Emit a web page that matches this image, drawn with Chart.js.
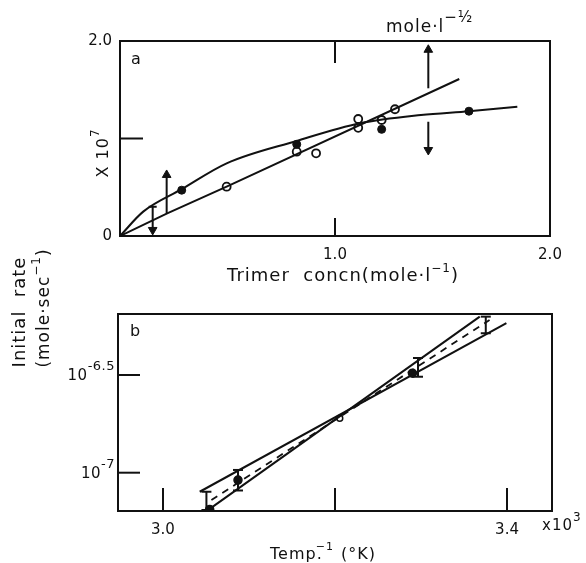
<!DOCTYPE html>
<html><head><meta charset="utf-8">
<script src="https://cdn.jsdelivr.net/npm/chart.js@4.4.1/dist/chart.umd.min.js"></script>
<style>
html,body{margin:0;padding:0;background:#fff;}
#wrap{position:relative;width:586px;height:563px;overflow:hidden;background:#fff;}
canvas{position:absolute;left:0;}
</style></head><body>
<div id="wrap">
<canvas id="ca" width="586" height="290" style="top:0px"></canvas>
<canvas id="cb" width="586" height="323" style="top:240px"></canvas>
</div>
<script>
// ---------- Panel a data ----------
const aFilledX = [0.287, 0.822, 1.217, 1.623];
const aFilledY = [0.47, 0.94, 1.094, 1.28];
const aOpenX = [0.496, 0.822, 0.912, 1.108, 1.108, 1.217, 1.279];
const aOpenY = [0.506, 0.865, 0.848, 1.20, 1.11, 1.19, 1.30];
const aCurveX = [0, 0.108, 0.287, 0.496, 0.822, 1.116, 1.40, 1.623, 1.848];
const aCurveY = [0, 0.25, 0.48, 0.745, 0.975, 1.156, 1.241, 1.28, 1.326];
const aLineX = [0, 0.217, 0.496, 1.578];
const aLineY = [0, 0.229, 0.506, 1.61];
const aArrowX = [0.152, 0.217, 1.434, 1.434];
const aArrowFrom = [0.30, 0.236, 1.515, 1.172];
const aArrowTo = [0.062, 0.626, 1.91, 0.882];
const aXTickValues = [1.0, 2.0];
const aXTickLabels = ['1.0', '2.0'];
const aYTickValues = [0, 2.0];
const aYTickLabels = ['0', '2.0'];
const aXMarks = [1.0];
const aYMarks = [1.0];

// ---------- Panel b data (log10 of initial rate) ----------
const bPointX = [3.0543, 3.0872, 3.2055, 3.290];
const bPointLog = [-7.188, -7.0376, -6.722, -6.491];
const bPointFilled = [true, true, false, true];
const bErrX = [3.0505, 3.0872, 3.2965, 3.3753];
const bErrLow = [-7.191, -7.091, -6.509, -6.2865];
const bErrHigh = [-7.0975, -6.986, -6.413, -6.2015];
const bShallowX = [3.0427, 3.3993];
const bShallowLog = [-7.0975, -6.2353];
const bSteepX = [3.0523, 3.3683];
const bSteepLog = [-7.1912, -6.2015];
const bDashX = [3.0563, 3.3797];
const bDashLog = [-7.14, -6.2184];
const bXTickValues = [3.0, 3.4];
const bXTickLabels = ['3.0', '3.4'];
const bXMarks = [3.0, 3.2, 3.4];
const bYMarks = [-6.5, -7.0];
const bYTickBase = ['10', '10'];
const bYTickExp = ['-6.5', '-7'];

const FONT = '"DejaVu Sans", sans-serif';
const INK = '#111';

function pts(xs, ys) { return xs.map((x, i) => ({x: x, y: ys[i]})); }

function rich(ctx, x, y, parts, align, spacing) {
  ctx.save();
  ctx.letterSpacing = (spacing || 0) + 'px';
  let w = 0;
  parts.forEach(p => { ctx.font = p.s + 'px ' + FONT; p.w = ctx.measureText(p.t).width + (p.gap || 0); w += p.w; });
  let cx = align === 'center' ? x - w / 2 : (align === 'right' ? x - w : x);
  ctx.textAlign = 'left'; ctx.textBaseline = 'alphabetic'; ctx.fillStyle = INK;
  parts.forEach(p => { ctx.font = p.s + 'px ' + FONT; ctx.fillText(p.t, cx + (p.dx || 0), y + (p.dy || 0)); cx += p.w; });
  ctx.restore();
}

function frame(ctx, a) {
  ctx.save(); ctx.strokeStyle = INK; ctx.lineWidth = 2;
  ctx.strokeRect(a.left, a.top, a.right - a.left, a.bottom - a.top);
  ctx.restore();
}

function fixedAxis(pos, min, max, tickValues, tickLabels, size, pad, fontSize) {
  const horiz = pos === 'bottom';
  return {
    type: 'linear', position: pos, min: min, max: max,
    grid: {display: false, drawTicks: false}, border: {display: false},
    afterFit: (s) => { if (horiz) s.height = size; else s.width = size; },
    afterBuildTicks: (s) => { s.ticks = tickValues.map(v => ({value: v})); },
    ticks: {
      padding: pad, color: INK, font: {family: FONT, size: fontSize}, autoSkip: false, maxRotation: 0,
      callback: (v) => { const i = tickValues.indexOf(v); return i >= 0 ? tickLabels[i] : ''; }
    }
  };
}

const baseOpts = {
  responsive: false, animation: false, devicePixelRatio: 1,
  plugins: {legend: {display: false}, tooltip: {enabled: false}},
};

// ---------- Panel a ----------
const aDatasets = [
  {data: pts(aCurveX, aCurveY), borderColor: INK, borderWidth: 2, pointRadius: 0, showLine: true, cubicInterpolationMode: 'monotone'},
  {data: pts(aLineX, aLineY), borderColor: INK, borderWidth: 2, pointRadius: 0, showLine: true},
  {data: pts(aFilledX, aFilledY), pointRadius: 4, pointBackgroundColor: INK, pointBorderColor: INK, showLine: false},
  {data: pts(aOpenX, aOpenY), pointRadius: 4, pointBackgroundColor: '#fff', pointBorderColor: INK, pointBorderWidth: 1.8, showLine: false},
];
aArrowX.forEach((x, i) => {
  const up = aArrowTo[i] > aArrowFrom[i];
  aDatasets.push({
    data: [{x: x, y: aArrowFrom[i]}, {x: x, y: aArrowTo[i]}],
    borderColor: INK, borderWidth: 2, showLine: true,
    pointStyle: [i === 0 ? 'line' : 'circle', 'triangle'],
    pointRadius: [i === 0 ? 4 : 0, 5],
    rotation: [0, up ? 0 : 180],
    pointBackgroundColor: INK, pointBorderColor: INK, pointBorderWidth: [2, 1]
  });
});

const aPlugin = {
  id: 'aDeco',
  afterDraw(chart) {
    const ctx = chart.ctx, a = chart.chartArea, sx = chart.scales.x, sy = chart.scales.y;
    frame(ctx, a);
    ctx.save(); ctx.strokeStyle = INK; ctx.lineWidth = 2;
    aXMarks.forEach(v => {
      const px = sx.getPixelForValue(v);
      ctx.beginPath(); ctx.moveTo(px, a.bottom); ctx.lineTo(px, a.bottom - 18); ctx.stroke();
      ctx.beginPath(); ctx.moveTo(px, a.top); ctx.lineTo(px, a.top + 22); ctx.stroke();
    });
    aYMarks.forEach(v => {
      const py = sy.getPixelForValue(v);
      ctx.beginPath(); ctx.moveTo(a.left, py); ctx.lineTo(a.left + 23, py); ctx.stroke();
    });
    ctx.restore();
    rich(ctx, a.left + 11, a.top + 23, [{t: 'a', s: 16}], 'left');
    rich(ctx, 386, 32, [{t: 'mole·l', s: 17}, {t: '−½', s: 15, dy: -10}], 'left', 1);
    rich(ctx, 343, 281, [{t: 'Trimer  concn(mole·l', s: 18}, {t: '−1', s: 12, dy: -9}, {t: ')', s: 18}], 'center', 1);
    ctx.save(); ctx.translate(108, 153); ctx.rotate(-Math.PI / 2);
    rich(ctx, 0, 0, [{t: 'X 10', s: 16}, {t: '7', s: 12, dy: -9}], 'center', 1);
    ctx.restore();
  }
};

new Chart(document.getElementById('ca'), {
  type: 'scatter',
  data: {datasets: aDatasets},
  options: Object.assign({}, baseOpts, {
    layout: {padding: {left: 0, right: 36, top: 41, bottom: 0}},
    scales: {
      x: fixedAxis('bottom', 0, 2, aXTickValues, aXTickLabels, 54, 10, 15),
      y: fixedAxis('left', 0, 2, aYTickValues, aYTickLabels, 120, 8, 15)
    }
  }),
  plugins: [aPlugin]
});

// ---------- Panel b ----------
const bDatasets = [
  {data: pts(bShallowX, bShallowLog), borderColor: INK, borderWidth: 2, pointRadius: 0, showLine: true},
  {data: pts(bSteepX, bSteepLog), borderColor: INK, borderWidth: 2, pointRadius: 0, showLine: true},
  {data: pts(bDashX, bDashLog), borderColor: INK, borderWidth: 1.8, borderDash: [7, 6], pointRadius: 0, showLine: true},
];
bErrX.forEach((x, i) => {
  bDatasets.push({
    data: [{x: x, y: bErrLow[i]}, {x: x, y: bErrHigh[i]}],
    borderColor: INK, borderWidth: 2, showLine: true,
    pointStyle: 'line', pointRadius: 5, pointBorderColor: INK, pointBorderWidth: 2
  });
});
bDatasets.push({
  data: pts(bPointX, bPointLog), showLine: false,
  pointRadius: bPointFilled.map(f => f ? 4 : 3),
  pointBackgroundColor: bPointFilled.map(f => f ? INK : '#fff'),
  pointBorderColor: INK, pointBorderWidth: 1.5
});

const bPlugin = {
  id: 'bDeco',
  afterDraw(chart) {
    const ctx = chart.ctx, a = chart.chartArea, sx = chart.scales.x, sy = chart.scales.y;
    frame(ctx, a);
    ctx.save(); ctx.strokeStyle = INK; ctx.lineWidth = 2;
    bXMarks.forEach(v => {
      const px = sx.getPixelForValue(v);
      ctx.beginPath(); ctx.moveTo(px, a.bottom); ctx.lineTo(px, a.bottom - 23); ctx.stroke();
    });
    bYMarks.forEach(v => {
      const py = sy.getPixelForValue(v);
      ctx.beginPath(); ctx.moveTo(a.left, py); ctx.lineTo(a.left + 22, py); ctx.stroke();
    });
    ctx.restore();
    bYMarks.forEach((v, i) => {
      const py = sy.getPixelForValue(v);
      rich(ctx, 115, py + 5, [{t: bYTickBase[i], s: 15}, {t: bYTickExp[i], s: 13, dy: -10}], 'right', 0.5);
    });
    rich(ctx, a.left + 12, a.top + 22, [{t: 'b', s: 16}], 'left');
    rich(ctx, 542, 290, [{t: 'x10', s: 15}, {t: '3', s: 12, dy: -9}], 'left', 1);
    rich(ctx, 323, 319, [{t: 'Temp.', s: 16}, {t: '−1', s: 11, dy: -9, dx: -7, gap: -6}, {t: ' (°K)', s: 16}], 'center', 1);
    ctx.save(); ctx.translate(25, 72); ctx.rotate(-Math.PI / 2);
    rich(ctx, 0, 0, [{t: 'Initial  rate', s: 18}], 'center', 1);
    ctx.restore();
    ctx.save(); ctx.translate(49, 68); ctx.rotate(-Math.PI / 2);
    rich(ctx, 0, 0, [{t: '(mole·sec', s: 17}, {t: '−1', s: 12, dy: -9}, {t: ')', s: 17}], 'center', 1);
    ctx.restore();
  }
};

new Chart(document.getElementById('cb'), {
  type: 'scatter',
  data: {datasets: bDatasets},
  options: Object.assign({}, baseOpts, {
    layout: {padding: {left: 0, right: 34, top: 74, bottom: 0}},
    scales: {
      x: fixedAxis('bottom', 2.9477, 3.4523, bXTickValues, bXTickLabels, 52, 10, 15),
      y: Object.assign(fixedAxis('left', -7.196, -6.188, [], [], 118, 8, 15), {ticks: {display: false}})
    }
  }),
  plugins: [bPlugin]
});
</script>
</body></html>
